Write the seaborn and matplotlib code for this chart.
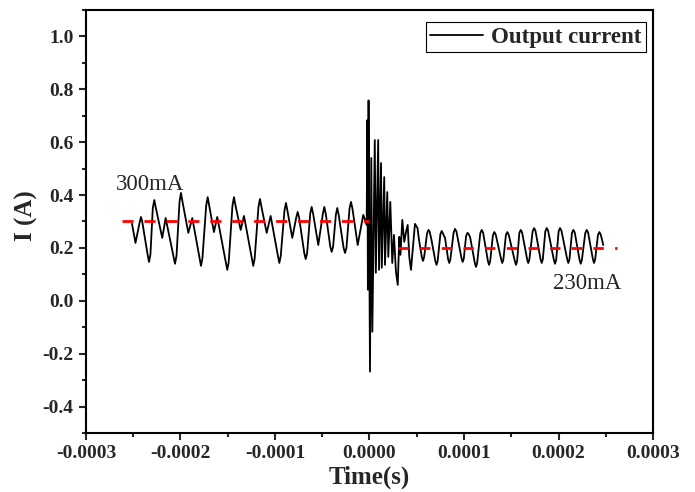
import numpy as np
import pandas as pd
import seaborn as sns
import matplotlib
matplotlib.use("Agg")
import matplotlib.pyplot as plt
from matplotlib.ticker import AutoMinorLocator

# Output current trace (time in microseconds, current in A)
# before the step
pre_us = [
    -251.3, -247.6, -243.0, -241.8, -240.5, -234.8, -233.3, -231.8, -229.3, -227.7,
    -226.0, -219.3, -215.7, -207.3, -205.8, -204.2, -201.0, -199.5, -197.9, -191.7,
    -187.5, -179.8, -178.3, -176.8, -172.8, -171.2, -169.6, -164.6, -161.1, -152.0,
    -150.5, -149.0, -145.0, -143.4, -141.8, -136.3, -132.8, -124.5, -123.0, -121.5,
    -117.5, -115.9, -114.3, -108.8, -104.6, -96.9, -95.4, -93.9, -90.0, -88.4,
    -86.8, -81.7, -77.5, -76.0, -74.5, -69.0, -67.5, -66.0, -62.7, -61.2,
    -59.7, -54.2, -49.3, -47.8, -46.3, -41.5, -40.0, -38.5, -35.6, -34.1,
    -32.6, -27.4, -25.9, -24.4, -21.1, -19.6, -18.1, -12.5, -6.6, -3.0,
]
pre_a = [
    0.291, 0.219, 0.300, 0.317, 0.300, 0.175, 0.147, 0.175, 0.350, 0.381,
    0.350, 0.238, 0.313, 0.165, 0.140, 0.170, 0.375, 0.408, 0.375, 0.257,
    0.313, 0.160, 0.132, 0.160, 0.360, 0.392, 0.360, 0.260, 0.317, 0.145,
    0.117, 0.145, 0.360, 0.392, 0.360, 0.268, 0.321, 0.160, 0.132, 0.160,
    0.355, 0.385, 0.355, 0.257, 0.321, 0.170, 0.143, 0.170, 0.340, 0.370,
    0.340, 0.238, 0.315, 0.336, 0.315, 0.180, 0.158, 0.180, 0.330, 0.355,
    0.330, 0.211, 0.330, 0.355, 0.330, 0.205, 0.185, 0.205, 0.325, 0.351,
    0.325, 0.200, 0.181, 0.200, 0.350, 0.374, 0.350, 0.211, 0.325, 0.287,
]

# transient around t = 0
spike_us = [
    -2.3, -1.7, -1.0, 0.5, 1.9, 3.0, 5.6, 6.7, 9.2, 10.1,
    12.2, 13.0, 15.6, 16.4, 18.8, 19.9, 22.0, 24.1, 25.9, 28.0,
    29.9, 31.5, 32.8, 34.7, 36.8, 38.6, 40.4, 42.1, 43.9,
]
spike_a = [
    0.683, 0.042, 0.758, -0.268, 0.540, -0.117, 0.608, 0.106, 0.608, 0.117,
    0.521, 0.125, 0.468, 0.136, 0.411, 0.166, 0.374, 0.143, 0.249, 0.109,
    0.060, 0.242, 0.174, 0.306, 0.223, 0.260, 0.287, 0.166, 0.117,
]

# after the step
post_us = [
    48.1, 50.8, 52.4, 55.4, 56.6, 57.8, 60.9, 62.4, 63.6, 65.6,
    69.7, 70.9, 72.1, 75.0, 76.4, 79.9, 83.2, 84.4, 85.6, 89.0,
    90.5, 92.0, 97.4, 98.6, 99.8, 102.2, 103.7, 105.0, 106.5, 111.5,
    112.7, 113.9, 117.2, 118.7, 120.2, 125.3, 126.5, 127.7, 130.6, 132.1,
    133.6, 139.3, 140.5, 141.7, 144.3, 145.8, 147.3, 153.8, 155.0, 156.2,
    158.5, 160.0, 161.5, 166.8, 168.0, 169.2, 172.6, 174.1, 175.6, 181.0,
    182.2, 183.4, 186.0, 187.5, 189.0, 195.1, 196.3, 197.5, 200.1, 201.6,
    203.1, 209.2, 210.4, 211.6, 214.2, 215.7, 217.2, 222.3, 223.5, 224.7,
    228.3, 229.8, 231.3, 236.4, 237.6, 238.8, 241.7, 243.2, 244.7, 247.4,
]
post_a = [
    0.291, 0.275, 0.230, 0.165, 0.151, 0.165, 0.255, 0.268, 0.262, 0.230,
    0.150, 0.136, 0.150, 0.252, 0.264, 0.238, 0.157, 0.143, 0.157, 0.258,
    0.272, 0.262, 0.160, 0.147, 0.160, 0.245, 0.257, 0.252, 0.240, 0.142,
    0.128, 0.142, 0.255, 0.268, 0.258, 0.150, 0.136, 0.150, 0.248, 0.260,
    0.250, 0.157, 0.143, 0.157, 0.248, 0.260, 0.250, 0.150, 0.136, 0.150,
    0.256, 0.268, 0.258, 0.157, 0.143, 0.157, 0.262, 0.275, 0.265, 0.157,
    0.143, 0.157, 0.262, 0.275, 0.265, 0.154, 0.140, 0.154, 0.262, 0.275,
    0.265, 0.157, 0.143, 0.157, 0.256, 0.268, 0.258, 0.154, 0.140, 0.154,
    0.256, 0.268, 0.258, 0.157, 0.143, 0.157, 0.248, 0.260, 0.250, 0.211,
]

# Average levels (red dashed lines)
before_us = [-262.0, 0.0]
before_level = [0.30, 0.30]
after_us = [30.0, 262.0]
after_level = [0.20, 0.20]

x_ticks = [-0.0003, -0.0002, -0.0001, 0.0, 0.0001, 0.0002, 0.0003]
x_labels = ["-0.0003", "-0.0002", "-0.0001", "0.0000", "0.0001", "0.0002", "0.0003"]
y_ticks = [-0.4, -0.2, 0.0, 0.2, 0.4, 0.6, 0.8, 1.0]
y_labels = ["-0.4", "-0.2", "0.0", "0.2", "0.4", "0.6", "0.8", "1.0"]

time_s = np.array(pre_us + spike_us + post_us) * 1e-6
df = pd.DataFrame({"Time": time_s, "Current": pre_a + spike_a + post_a})
df_before = pd.DataFrame({"Time": np.array(before_us) * 1e-6, "Current": before_level})
df_after = pd.DataFrame({"Time": np.array(after_us) * 1e-6, "Current": after_level})

sns.set_theme(style="ticks")
plt.rcParams["font.family"] = ["Liberation Serif", "DejaVu Serif"]

fig = plt.figure(figsize=(6.95, 4.92), dpi=100)
ax = fig.add_axes([0.1237, 0.12, 0.8159, 0.8597])

sns.lineplot(data=df_before, x="Time", y="Current", color="red", lw=2,
             linestyle=(0, (4, 3.9)), ax=ax, zorder=3)
sns.lineplot(data=df_after, x="Time", y="Current", color="red", lw=2,
             linestyle=(0, (3.7, 4.1)), ax=ax, zorder=3)
sns.lineplot(data=df, x="Time", y="Current", color="black", lw=1.3,
             estimator=None, sort=False, label="Output current", ax=ax, zorder=2)

ax.set_xlim(-0.0003, 0.0003)
ax.set_ylim(-0.5, 1.1)
ax.set_xticks(x_ticks, x_labels)
ax.set_yticks(y_ticks, y_labels)
ax.xaxis.set_minor_locator(AutoMinorLocator(2))
ax.yaxis.set_minor_locator(AutoMinorLocator(2))
ax.tick_params(which="major", direction="out", length=5, width=1.5, labelsize=14, pad=4)
ax.tick_params(which="minor", direction="out", length=3, width=1.5)
for lab in ax.get_xticklabels() + ax.get_yticklabels():
    lab.set_fontweight("bold")
for sp in ax.spines.values():
    sp.set_linewidth(1.5)
    sp.set_color("black")

ax.set_xlabel("Time(s)", fontsize=18, fontweight="bold", labelpad=2)
ax.set_ylabel("I (A)", fontsize=18, fontweight="bold")
ax.yaxis.set_label_coords(-0.085, 0.515)

ax.text(-2.68e-4, 0.419, "300mA", fontsize=16.5)
ax.text(1.94e-4, 0.045, "230mA", fontsize=16.5)

leg = ax.legend(loc="upper right", bbox_to_anchor=(0.9877, 0.9716), borderaxespad=0,
                frameon=True, fancybox=False, edgecolor="black", framealpha=1,
                handlelength=2.3, handletextpad=0.35, borderpad=0.2,
                prop={"size": 16.5, "weight": "bold"})
leg.get_frame().set_linewidth(0.8)

fig.savefig("out.png", dpi=100)
